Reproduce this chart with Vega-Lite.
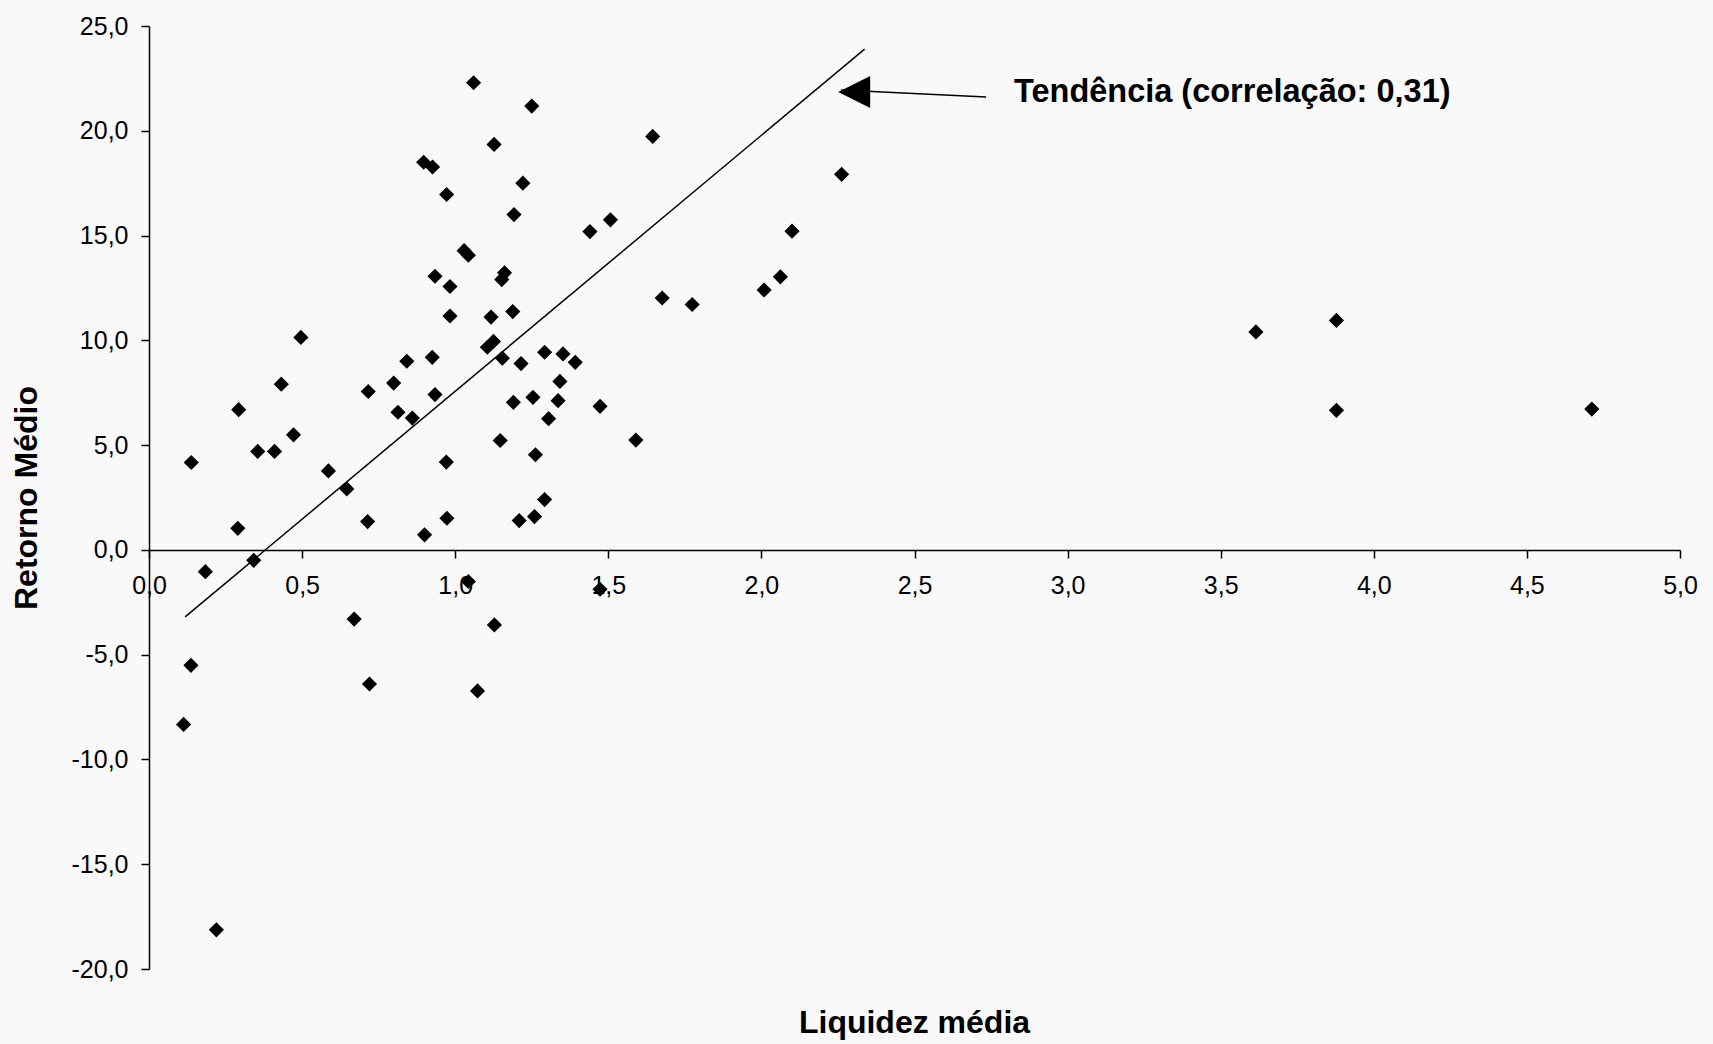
{
  "$schema": "https://vega.github.io/schema/vega-lite/v6.json",
  "width": 1531,
  "height": 943,
  "autosize": {"type": "none"},
  "padding": {"left": 149, "top": 26, "right": 33, "bottom": 75},
  "background": "#f9f9f9",
  "config": {
    "locale": {"number": {"decimal": ",", "thousands": ".", "grouping": [3], "currency": ["R$ ", ""], "minus": "-"}},
    "font": "Liberation Sans",
    "view": {"stroke": null},
    "axis": {
      "grid": false,
      "domainColor": "#000",
      "tickColor": "#000",
      "labelColor": "#000",
      "titleColor": "#000",
      "labelFont": "Liberation Sans",
      "titleFont": "Liberation Sans",
      "labelFontSize": 25,
      "titleFontSize": 32,
      "titleFontWeight": "bold",
      "domainWidth": 1.5,
      "tickWidth": 1.5,
      "tickSize": 8
    }
  },
  "title": {
    "text": "Liquidez média",
    "orient": "bottom",
    "anchor": "middle",
    "fontSize": 32,
    "fontWeight": "bold",
    "font": "Liberation Sans",
    "color": "#000",
    "offset": 26
  },
  "encoding": {
    "x": {
      "field": "liquidez",
      "type": "quantitative",
      "scale": {"domain": [0, 5], "nice": false, "zero": false},
      "axis": {
        "values": [0, 0.5, 1, 1.5, 2, 2.5, 3, 3.5, 4, 4.5, 5],
        "format": ".1f",
        "title": null,
        "offset": -419,
        "labelPadding": 15,
        "labelFlush": false,
        "labelOverlap": false
      }
    },
    "y": {
      "field": "retorno",
      "type": "quantitative",
      "scale": {"domain": [-20, 25], "nice": false, "zero": false},
      "axis": {
        "values": [-20, -15, -10, -5, 0, 5, 10, 15, 20, 25],
        "format": ".1f",
        "title": "Retorno Médio",
        "titlePadding": 28,
        "labelPadding": 13,
        "labelFlush": false,
        "labelOverlap": false
      }
    }
  },
  "layer": [
    {
      "data": {"values": [
        {"liquidez": 1.060, "retorno": 22.29},
        {"liquidez": 1.250, "retorno": 21.18},
        {"liquidez": 1.645, "retorno": 19.73},
        {"liquidez": 1.127, "retorno": 19.35},
        {"liquidez": 0.897, "retorno": 18.50},
        {"liquidez": 0.926, "retorno": 18.27},
        {"liquidez": 1.221, "retorno": 17.50},
        {"liquidez": 0.972, "retorno": 16.96},
        {"liquidez": 2.262, "retorno": 17.92},
        {"liquidez": 1.192, "retorno": 16.00},
        {"liquidez": 1.507, "retorno": 15.75},
        {"liquidez": 1.440, "retorno": 15.19},
        {"liquidez": 2.100, "retorno": 15.21},
        {"liquidez": 1.029, "retorno": 14.28},
        {"liquidez": 1.043, "retorno": 14.06},
        {"liquidez": 0.934, "retorno": 13.06},
        {"liquidez": 1.161, "retorno": 13.22},
        {"liquidez": 1.152, "retorno": 12.90},
        {"liquidez": 0.983, "retorno": 12.57},
        {"liquidez": 2.062, "retorno": 13.03},
        {"liquidez": 2.009, "retorno": 12.40},
        {"liquidez": 1.676, "retorno": 12.02},
        {"liquidez": 1.774, "retorno": 11.71},
        {"liquidez": 1.188, "retorno": 11.37},
        {"liquidez": 0.983, "retorno": 11.16},
        {"liquidez": 1.117, "retorno": 11.11},
        {"liquidez": 0.496, "retorno": 10.14},
        {"liquidez": 1.125, "retorno": 9.95},
        {"liquidez": 1.105, "retorno": 9.67},
        {"liquidez": 1.154, "retorno": 9.15},
        {"liquidez": 0.842, "retorno": 9.00},
        {"liquidez": 0.925, "retorno": 9.19},
        {"liquidez": 1.215, "retorno": 8.89},
        {"liquidez": 1.292, "retorno": 9.43},
        {"liquidez": 1.352, "retorno": 9.35},
        {"liquidez": 1.392, "retorno": 8.95},
        {"liquidez": 0.432, "retorno": 7.91},
        {"liquidez": 0.799, "retorno": 7.96},
        {"liquidez": 1.342, "retorno": 8.04},
        {"liquidez": 0.716, "retorno": 7.56},
        {"liquidez": 0.934, "retorno": 7.41},
        {"liquidez": 1.254, "retorno": 7.28},
        {"liquidez": 1.190, "retorno": 7.04},
        {"liquidez": 1.336, "retorno": 7.12},
        {"liquidez": 0.293, "retorno": 6.69},
        {"liquidez": 0.813, "retorno": 6.57},
        {"liquidez": 0.860, "retorno": 6.29},
        {"liquidez": 1.305, "retorno": 6.26},
        {"liquidez": 1.473, "retorno": 6.85},
        {"liquidez": 0.472, "retorno": 5.49},
        {"liquidez": 0.355, "retorno": 4.70},
        {"liquidez": 0.410, "retorno": 4.70},
        {"liquidez": 1.147, "retorno": 5.22},
        {"liquidez": 1.590, "retorno": 5.24},
        {"liquidez": 0.138, "retorno": 4.17},
        {"liquidez": 0.971, "retorno": 4.19},
        {"liquidez": 1.262, "retorno": 4.54},
        {"liquidez": 0.586, "retorno": 3.77},
        {"liquidez": 0.646, "retorno": 2.91},
        {"liquidez": 1.292, "retorno": 2.40},
        {"liquidez": 0.714, "retorno": 1.35},
        {"liquidez": 0.973, "retorno": 1.51},
        {"liquidez": 1.209, "retorno": 1.40},
        {"liquidez": 1.259, "retorno": 1.59},
        {"liquidez": 0.290, "retorno": 1.03},
        {"liquidez": 0.900, "retorno": 0.72},
        {"liquidez": 0.184, "retorno": -1.04},
        {"liquidez": 0.342, "retorno": -0.50},
        {"liquidez": 1.043, "retorno": -1.51},
        {"liquidez": 1.473, "retorno": -1.88},
        {"liquidez": 0.670, "retorno": -3.30},
        {"liquidez": 1.128, "retorno": -3.58},
        {"liquidez": 0.137, "retorno": -5.51},
        {"liquidez": 0.720, "retorno": -6.40},
        {"liquidez": 1.073, "retorno": -6.73},
        {"liquidez": 0.113, "retorno": -8.33},
        {"liquidez": 0.220, "retorno": -18.13},
        {"liquidez": 3.615, "retorno": 10.40},
        {"liquidez": 3.878, "retorno": 10.95},
        {"liquidez": 3.878, "retorno": 6.66},
        {"liquidez": 4.712, "retorno": 6.72}
      ]},
      "mark": {"type": "point", "shape": "diamond", "filled": true, "color": "#000", "size": 230, "opacity": 1}
    },
    {
      "data": {"values": [
        {"liquidez": 0.118, "retorno": -3.2},
        {"liquidez": 2.337, "retorno": 23.9}
      ]},
      "mark": {"type": "line", "color": "#000", "strokeWidth": 1.5}
    },
    {
      "data": {"values": [
        {"liquidez": 2.26, "retorno": 21.95, "liquidez_fim": 2.734, "retorno_fim": 21.61}
      ]},
      "mark": {"type": "rule", "color": "#000", "strokeWidth": 1.5},
      "encoding": {
        "x2": {"field": "liquidez_fim"},
        "y2": {"field": "retorno_fim"}
      }
    },
    {
      "data": {"values": [
        {"liquidez": 2.303, "retorno": 21.85}
      ]},
      "mark": {"type": "point", "shape": "M-1,0L1,-1L1,1Z", "filled": true, "color": "#000", "size": 1024, "opacity": 1}
    },
    {
      "data": {"values": [
        {"liquidez": 2.825, "retorno": 21.86, "texto": "Tendência (correlação: 0,31)"}
      ]},
      "mark": {"type": "text", "align": "left", "baseline": "middle", "fontSize": 32.5, "fontWeight": "bold", "font": "Liberation Sans", "color": "#000"},
      "encoding": {
        "text": {"field": "texto", "type": "nominal"}
      }
    }
  ]
}
